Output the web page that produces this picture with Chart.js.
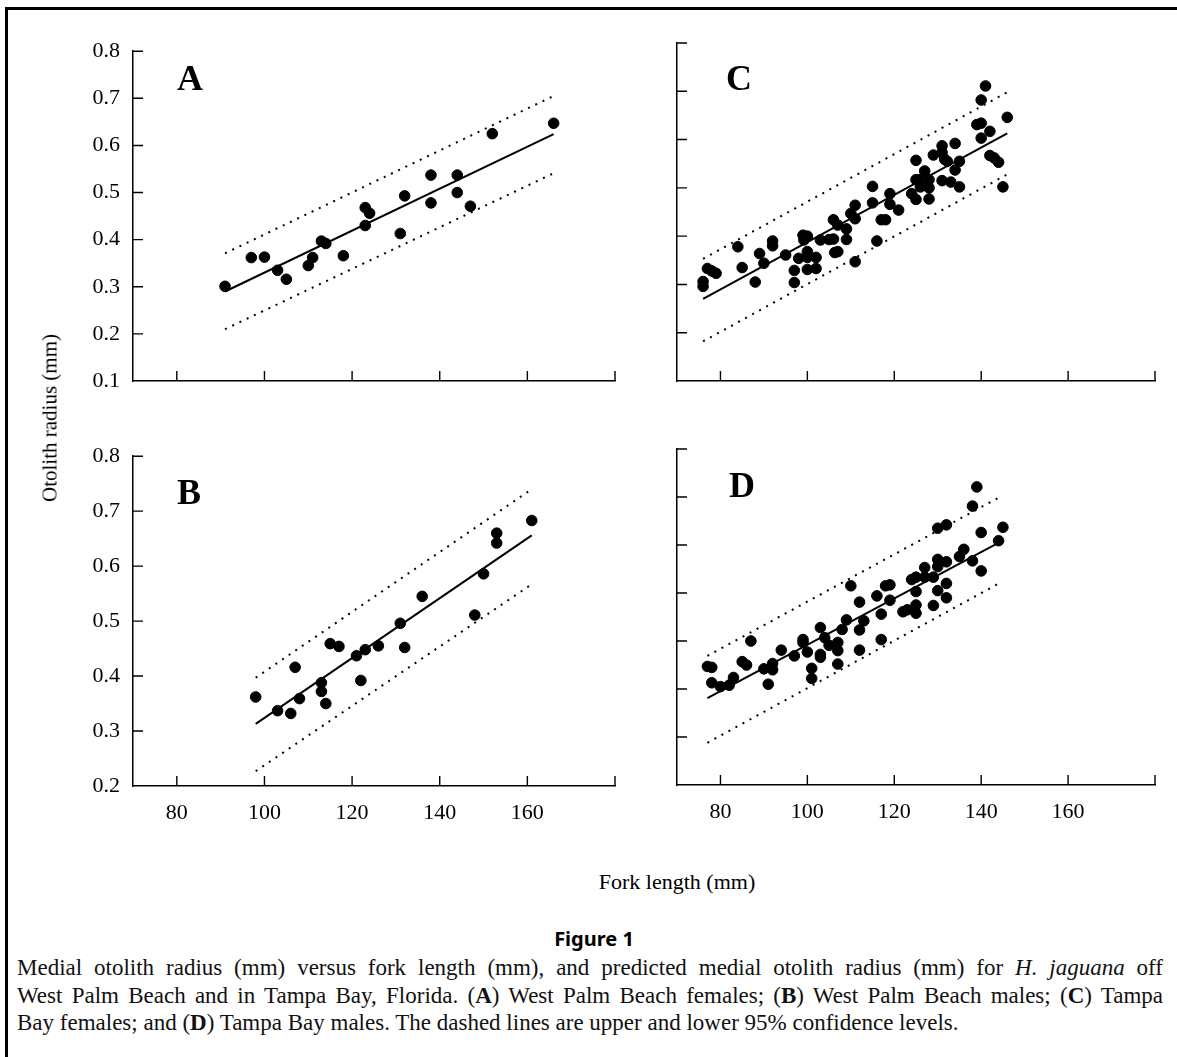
<!DOCTYPE html>
<html>
<head>
<meta charset="utf-8">
<script src="https://cdn.jsdelivr.net/npm/chart.js@4.4.1/dist/chart.umd.min.js"></script>
<style>
  html, body { margin: 0; padding: 0; background: #fff; }
  body { width: 1177px; height: 1057px; position: relative; overflow: hidden; font-family: "Liberation Serif", serif; color: #000; }
  #frame { position: absolute; left: 5px; top: 7px; width: 1180px; height: 1100px; border-left: 3px solid #000; border-top: 3px solid #000; }
  canvas { position: absolute; }
  .letter { position: absolute; font-weight: bold; font-size: 36px; line-height: 36px; }
  .lbl { position: absolute; transform: translate(-50%, -50%); white-space: nowrap; }
  #ytitle { left: 50px; top: 418px; font-size: 21px; transform: translate(-50%, -50%) rotate(-90deg); }
  #xtitle { left: 677px; top: 882px; font-size: 22px; }
  #figno { left: 594px; top: 938px; font-family: "Noto Sans", sans-serif; font-weight: bold; font-size: 20px; }
  #caption { position: absolute; left: 17px; top: 954px; width: 1146px; font-size: 23px; line-height: 27.5px; color: #111; }
  #caption div { text-align: justify; text-align-last: justify; white-space: nowrap; }
  #caption div.last { text-align-last: left; }
</style>
</head>
<body>
<div id="frame"></div>
<canvas id="panelA"></canvas>
<canvas id="panelC"></canvas>
<canvas id="panelB"></canvas>
<canvas id="panelD"></canvas>
<div class="letter" style="left:177px; top:60px;">A</div>
<div class="letter" style="left:726px; top:60px;">C</div>
<div class="letter" style="left:177px; top:474px;">B</div>
<div class="letter" style="left:729px; top:467px;">D</div>
<div class="lbl" id="ytitle">Otolith radius (mm)</div>
<div class="lbl" id="xtitle">Fork length (mm)</div>
<div class="lbl" id="figno">Figure 1</div>
<div id="caption">
  <div>Medial otolith radius (mm) versus fork length (mm), and predicted medial otolith radius (mm) for <i>H. jaguana</i> off</div>
  <div>West Palm Beach and in Tampa Bay, Florida. (<b>A</b>) West Palm Beach females; (<b>B</b>) West Palm Beach males; (<b>C</b>) Tampa</div>
  <div class="last">Bay females; and (<b>D</b>) Tampa Bay males. The dashed lines are upper and lower 95% confidence levels.</div>
</div>
<script>
// tick values and labels
const xTickValues = [80, 100, 120, 140, 160, 180];
const xTickLabels = ['80', '100', '120', '140', '160', ''];
const yTicksWide = [0.1, 0.2, 0.3, 0.4, 0.5, 0.6, 0.7, 0.8];
const yLabelsWide = ['0.1', '0.2', '0.3', '0.4', '0.5', '0.6', '0.7', '0.8'];
const yTicksB = [0.2, 0.3, 0.4, 0.5, 0.6, 0.7, 0.8];
const yLabelsB = ['0.2', '0.3', '0.4', '0.5', '0.6', '0.7', '0.8'];

// A: West Palm Beach females
const forkA = [91, 97, 100, 103, 105, 110, 111, 113, 114, 118, 123, 124, 123, 131, 132, 138, 138, 144, 144, 147, 152, 166];
const radiusA = [0.301, 0.362, 0.363, 0.335, 0.316, 0.345, 0.362, 0.397, 0.392, 0.366, 0.468, 0.456, 0.430, 0.413, 0.493, 0.537, 0.478, 0.537, 0.500, 0.471, 0.625, 0.647];
const lineXA = [91, 166];
const fitA = [0.290, 0.624];
const upperA = [0.371, 0.705];
const lowerA = [0.210, 0.541];

// B: West Palm Beach males
const forkB = [98, 103, 106, 107, 108, 113, 113, 114, 115, 117, 121, 122, 123, 126, 131, 132, 136, 148, 150, 153, 153, 161];
const radiusB = [0.362, 0.337, 0.332, 0.416, 0.359, 0.388, 0.372, 0.350, 0.459, 0.454, 0.437, 0.392, 0.448, 0.455, 0.496, 0.452, 0.545, 0.511, 0.586, 0.660, 0.642, 0.683];
const lineXB = [98, 161];
const fitB = [0.313, 0.656];
const upperB = [0.397, 0.740];
const lowerB = [0.227, 0.567];

// C: Tampa Bay females
const forkC = [76, 76, 77, 78, 79, 84, 85, 88, 89, 90, 92, 92, 95, 97, 97, 98, 99, 99.2, 100, 100, 100, 100, 102, 102, 103, 105, 106, 106, 106.3, 107, 107, 109, 109, 110, 111, 111, 111, 115, 115, 116, 117, 118, 119, 119, 121, 124, 125, 125, 125, 126, 126, 127, 128, 128, 128, 129, 131, 131, 131, 131.6, 132.2, 133, 134, 134, 135, 135, 139, 140, 140, 140, 141, 142, 142, 143, 144, 145, 146];
const radiusC = [0.306, 0.296, 0.333, 0.328, 0.323, 0.378, 0.335, 0.305, 0.364, 0.344, 0.390, 0.380, 0.361, 0.329, 0.304, 0.354, 0.402, 0.392, 0.400, 0.368, 0.356, 0.331, 0.356, 0.333, 0.392, 0.393, 0.394, 0.434, 0.366, 0.423, 0.368, 0.415, 0.393, 0.447, 0.464, 0.436, 0.347, 0.503, 0.469, 0.390, 0.434, 0.434, 0.488, 0.466, 0.454, 0.488, 0.517, 0.476, 0.557, 0.517, 0.502, 0.535, 0.517, 0.500, 0.477, 0.568, 0.587, 0.573, 0.515, 0.559, 0.555, 0.512, 0.592, 0.537, 0.555, 0.502, 0.631, 0.634, 0.603, 0.682, 0.711, 0.617, 0.567, 0.562, 0.553, 0.502, 0.646];
const lineXC = [76, 146];
const fitC = [0.270, 0.613];
const upperC = [0.353, 0.698];
const lowerC = [0.182, 0.528];

// D: Tampa Bay males
const forkD = [77, 78, 78, 80, 82, 83, 85, 86, 87, 90, 91, 92, 92, 94, 97, 99, 99, 100, 101, 101, 103, 103, 103, 104, 105, 107, 107, 107, 108, 109, 110, 112, 112, 112, 113, 116, 117, 117, 118, 119, 119, 122, 123, 124, 125, 125, 125, 125, 127, 127, 129, 129, 130, 130, 130, 130, 132, 132, 132, 132, 135, 136, 138, 138, 139, 140, 140, 144, 145];
const radiusD = [0.347, 0.345, 0.313, 0.305, 0.308, 0.324, 0.357, 0.350, 0.400, 0.342, 0.310, 0.353, 0.340, 0.381, 0.369, 0.403, 0.397, 0.377, 0.343, 0.322, 0.428, 0.372, 0.366, 0.407, 0.391, 0.397, 0.380, 0.352, 0.424, 0.444, 0.515, 0.481, 0.423, 0.381, 0.442, 0.494, 0.456, 0.403, 0.515, 0.517, 0.485, 0.461, 0.465, 0.528, 0.533, 0.503, 0.475, 0.458, 0.553, 0.533, 0.533, 0.474, 0.635, 0.570, 0.555, 0.505, 0.642, 0.565, 0.520, 0.490, 0.576, 0.591, 0.681, 0.567, 0.721, 0.626, 0.546, 0.609, 0.637];
const lineXD = [77, 144.5];
const fitD = [0.281, 0.607];
const upperD = [0.369, 0.701];
const lowerD = [0.188, 0.522];

// short tick marks pointing into the plot, like the original
const inwardTicks = {
  id: 'inwardTicks',
  afterDraw(chart) {
    const ctx = chart.ctx;
    const area = chart.chartArea;
    const xs = chart.scales.x;
    const ys = chart.scales.y;
    ctx.save();
    ctx.strokeStyle = '#000';
    ctx.lineWidth = 1.4;
    ctx.beginPath();
    xs.ticks.forEach(t => {
      const px = xs.getPixelForValue(t.value);
      ctx.moveTo(px, area.bottom);
      ctx.lineTo(px, area.bottom - 10);
    });
    ys.ticks.forEach(t => {
      if (t.value <= ys.min + 1e-9) return;
      const py = ys.getPixelForValue(t.value);
      ctx.moveTo(area.left, py);
      ctx.lineTo(area.left + 10, py);
    });
    ctx.stroke();
    ctx.restore();
  }
};

function makePanel(id, rect, fork, radius, lineX, fit, upper, lower, yTicks, yLabels, showY, showX) {
  const cv = document.getElementById(id);
  cv.width = rect.r - rect.l + 110;
  cv.height = rect.b - rect.t + 70;
  cv.style.left = (rect.l - 80) + 'px';
  cv.style.top = (rect.t - 20) + 'px';

  const points = fork.map((x, i) => ({ x: x, y: radius[i] }));
  const toLine = ys => lineX.map((x, i) => ({ x: x, y: ys[i] }));
  const tickFont = { family: 'Liberation Serif', size: 22 };

  new Chart(cv, {
    type: 'scatter',
    data: {
      datasets: [
        { data: points, backgroundColor: '#000', borderColor: '#000', pointRadius: 5.3, pointHoverRadius: 5.3 },
        { type: 'line', data: toLine(fit), borderColor: '#000', borderWidth: 2, pointRadius: 0, fill: false },
        { type: 'line', data: toLine(upper), borderColor: '#000', borderWidth: 2, borderDash: [2, 6], pointRadius: 0, fill: false },
        { type: 'line', data: toLine(lower), borderColor: '#000', borderWidth: 2, borderDash: [2, 6], pointRadius: 0, fill: false }
      ]
    },
    options: {
      responsive: false,
      animation: false,
      devicePixelRatio: 1,
      layout: { padding: { top: 20, right: 30, left: 0, bottom: 0 } },
      plugins: { legend: { display: false }, tooltip: { enabled: false } },
      scales: {
        x: {
          type: 'linear', min: 70, max: 180,
          grid: { display: false, drawTicks: false },
          border: { display: true, color: '#000', width: 1.5 },
          afterBuildTicks: s => { s.ticks = xTickValues.map(v => ({ value: v })); },
          afterFit: s => { s.height = 50; },
          ticks: { display: showX, padding: 14, color: '#000', font: tickFont, maxRotation: 0, autoSkip: false,
                   callback: (v, i) => xTickLabels[i] }
        },
        y: {
          type: 'linear', min: yTicks[0], max: 0.8,
          grid: { display: false, drawTicks: false },
          border: { display: true, color: '#000', width: 1.5 },
          afterBuildTicks: s => { s.ticks = yTicks.map(v => ({ value: v })); },
          afterFit: s => { s.width = 80; },
          ticks: { display: showY, padding: 13, color: '#000', font: tickFont, autoSkip: false,
                   callback: (v, i) => yLabels[i] }
        }
      }
    },
    plugins: [inwardTicks]
  });
}

makePanel('panelA', { l: 133, t: 45, r: 615, b: 381 }, forkA, radiusA, lineXA, fitA, upperA, lowerA, yTicksWide, yLabelsWide, true, false);
makePanel('panelC', { l: 677, t: 43, r: 1155, b: 381 }, forkC, radiusC, lineXC, fitC, upperC, lowerC, yTicksWide, yLabelsWide, false, false);
makePanel('panelB', { l: 133, t: 450, r: 615, b: 786 }, forkB, radiusB, lineXB, fitB, upperB, lowerB, yTicksB, yLabelsB, true, true);
makePanel('panelD', { l: 677, t: 449, r: 1155, b: 785 }, forkD, radiusD, lineXD, fitD, upperD, lowerD, yTicksWide, yLabelsWide, false, true);
</script>
</body>
</html>
